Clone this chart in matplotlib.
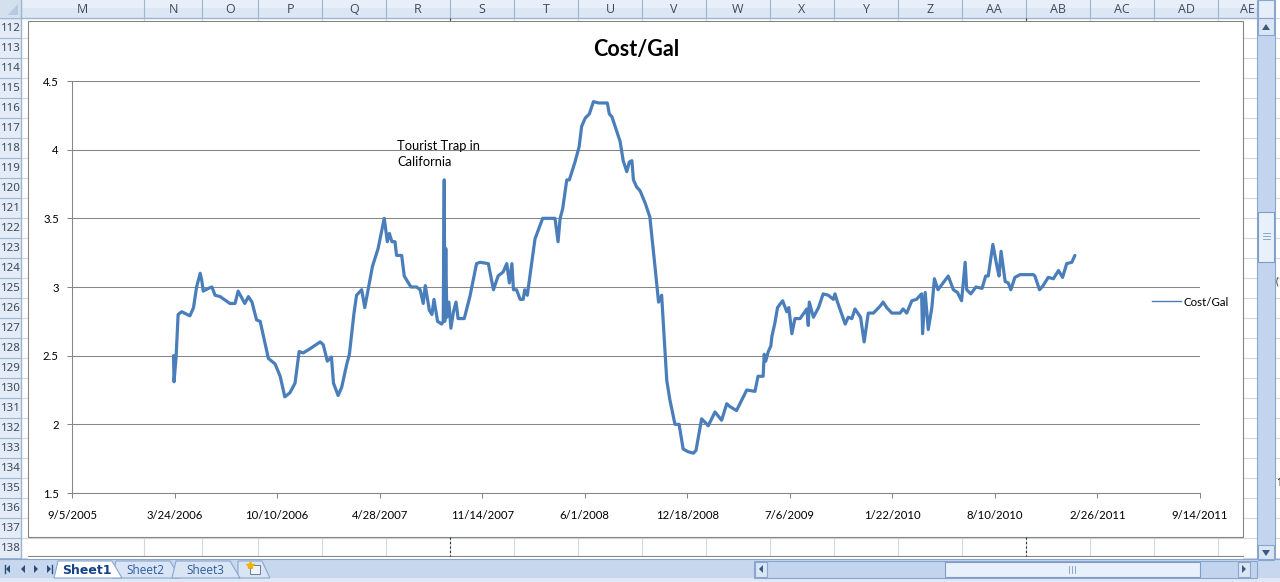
import matplotlib
matplotlib.use("Agg")
import matplotlib.pyplot as plt
import matplotlib.dates as mdates
from matplotlib.patches import Rectangle, Polygon
from matplotlib.lines import Line2D
import pandas as pd

# ---------------- data ----------------
dates = [
    "2006-03-22", "2006-03-23", "2006-03-27", "2006-03-31", "2006-04-07", "2006-04-23", "2006-04-30",
    "2006-05-06", "2006-05-13", "2006-05-16", "2006-05-19", "2006-05-29", "2006-06-05", "2006-06-11",
    "2006-06-21", "2006-07-10", "2006-07-20", "2006-07-26", "2006-08-08", "2006-08-15", "2006-08-22",
    "2006-08-31", "2006-09-07", "2006-09-23", "2006-10-06", "2006-10-16", "2006-10-25", "2006-11-04",
    "2006-11-14", "2006-11-22", "2006-11-30", "2006-12-13", "2007-01-02", "2007-01-08", "2007-01-16",
    "2007-01-24", "2007-01-28", "2007-02-06", "2007-02-13", "2007-02-23", "2007-02-28", "2007-03-09",
    "2007-03-14", "2007-03-24", "2007-03-30", "2007-04-08", "2007-04-14", "2007-04-25", "2007-05-07",
    "2007-05-13", "2007-05-17", "2007-05-22", "2007-05-28", "2007-05-31", "2007-06-10", "2007-06-15",
    "2007-06-28", "2007-07-09", "2007-07-16", "2007-07-22", "2007-07-26", "2007-08-03", "2007-08-08",
    "2007-08-12", "2007-08-19", "2007-08-27", "2007-08-30", "2007-09-01", "2007-09-02", "2007-09-04",
    "2007-09-06", "2007-09-10", "2007-09-14", "2007-09-19", "2007-09-24", "2007-09-28", "2007-10-10",
    "2007-10-21", "2007-11-03", "2007-11-10", "2007-11-26", "2007-12-06", "2007-12-15", "2007-12-25",
    "2008-01-01", "2008-01-06", "2008-01-11", "2008-01-14", "2008-01-20", "2008-01-27", "2008-02-02",
    "2008-02-05", "2008-02-10", "2008-02-25", "2008-03-11", "2008-04-04", "2008-04-10", "2008-04-14",
    "2008-04-19", "2008-04-27", "2008-05-02", "2008-05-13", "2008-05-21", "2008-05-26", "2008-06-02",
    "2008-06-10", "2008-06-18", "2008-06-28", "2008-07-15", "2008-07-19", "2008-07-24", "2008-08-09",
    "2008-08-15", "2008-08-22", "2008-08-27", "2008-09-01", "2008-09-04", "2008-09-10", "2008-09-17",
    "2008-09-27", "2008-10-06", "2008-10-16", "2008-10-23", "2008-10-29", "2008-11-08", "2008-11-14",
    "2008-11-24", "2008-12-02", "2008-12-10", "2008-12-20", "2008-12-30", "2009-01-04", "2009-01-15",
    "2009-01-28", "2009-02-10", "2009-02-23", "2009-03-05", "2009-03-11", "2009-03-24", "2009-04-13",
    "2009-04-29", "2009-05-05", "2009-05-15", "2009-05-17", "2009-05-20", "2009-05-25", "2009-05-30",
    "2009-06-01", "2009-06-07", "2009-06-12", "2009-06-22", "2009-06-30", "2009-07-04", "2009-07-10",
    "2009-07-16", "2009-07-26", "2009-08-08", "2009-08-11", "2009-08-13", "2009-08-21", "2009-08-31",
    "2009-09-09", "2009-09-19", "2009-09-29", "2009-10-02", "2009-10-07", "2009-10-22", "2009-10-28",
    "2009-11-04", "2009-11-10", "2009-11-21", "2009-11-28", "2009-12-06", "2009-12-16", "2009-12-29",
    "2010-01-04", "2010-01-11", "2010-01-21", "2010-02-06", "2010-02-12", "2010-02-19", "2010-03-01",
    "2010-03-10", "2010-03-20", "2010-03-22", "2010-03-27", "2010-04-02", "2010-04-09", "2010-04-14",
    "2010-04-21", "2010-05-11", "2010-05-21", "2010-05-29", "2010-06-06", "2010-06-13", "2010-06-16",
    "2010-06-24", "2010-07-04", "2010-07-16", "2010-07-23", "2010-07-28", "2010-08-06", "2010-08-14",
    "2010-08-18", "2010-08-22", "2010-08-30", "2010-09-05", "2010-09-10", "2010-09-18", "2010-09-28",
    "2010-10-24", "2010-10-27", "2010-11-05", "2010-11-12", "2010-11-22", "2010-12-02", "2010-12-12",
    "2010-12-20", "2010-12-28", "2011-01-07", "2011-01-13",
]
cost_per_gal = [
    2.50, 2.31, 2.49, 2.80, 2.82, 2.79, 2.85,
    3.00, 3.10, 3.05, 2.97, 2.99, 3.00, 2.94,
    2.93, 2.88, 2.88, 2.97, 2.88, 2.93, 2.89,
    2.76, 2.75, 2.48, 2.44, 2.35, 2.20, 2.23,
    2.30, 2.53, 2.52, 2.55, 2.60, 2.58, 2.46,
    2.49, 2.30, 2.21, 2.27, 2.44, 2.51, 2.81,
    2.94, 2.98, 2.85, 3.03, 3.15, 3.28, 3.50,
    3.33, 3.39, 3.33, 3.33, 3.23, 3.23, 3.08,
    3.00, 3.00, 2.98, 2.88, 3.01, 2.83, 2.80,
    2.91, 2.75, 2.73, 2.75, 3.78, 2.75, 3.28,
    2.78, 2.89, 2.70, 2.82, 2.89, 2.77, 2.77,
    2.93, 3.17, 3.18, 3.17, 2.98, 3.08, 3.11,
    3.17, 3.03, 3.17, 2.98, 2.98, 2.91, 2.91,
    2.98, 2.94, 3.35, 3.50, 3.50, 3.33, 3.50,
    3.57, 3.78, 3.78, 3.91, 4.02, 4.17, 4.23,
    4.26, 4.35, 4.34, 4.34, 4.26, 4.24, 4.06,
    3.92, 3.84, 3.91, 3.92, 3.78, 3.73, 3.70,
    3.61, 3.51, 3.15, 2.89, 2.94, 2.32, 2.18,
    2.00, 2.00, 1.82, 1.80, 1.79, 1.81, 2.04,
    1.99, 2.09, 2.03, 2.15, 2.13, 2.10, 2.25,
    2.24, 2.35, 2.35, 2.51, 2.46, 2.53, 2.57,
    2.64, 2.74, 2.85, 2.90, 2.82, 2.85, 2.66,
    2.77, 2.77, 2.84, 2.72, 2.89, 2.78, 2.85,
    2.95, 2.94, 2.91, 2.95, 2.89, 2.73, 2.78,
    2.77, 2.84, 2.78, 2.60, 2.81, 2.81, 2.86,
    2.89, 2.85, 2.81, 2.81, 2.84, 2.81, 2.90,
    2.91, 2.95, 2.66, 2.96, 2.69, 2.85, 3.06,
    2.98, 3.08, 2.98, 2.96, 2.90, 3.18, 2.98,
    2.95, 3.00, 2.99, 3.08, 3.08, 3.31, 3.15,
    3.08, 3.26, 3.04, 3.03, 2.98, 3.07, 3.09,
    3.09, 3.08, 2.98, 3.01, 3.07, 3.06, 3.12,
    3.07, 3.17, 3.18, 3.23,
]
chart_title = "Cost/Gal"
series_name = "Cost/Gal"
x_tick_dates = ["2005-09-05", "2006-03-24", "2006-10-10", "2007-04-28", "2007-11-14", "2008-06-01",
                "2008-12-18", "2009-07-06", "2010-01-22", "2010-08-10", "2011-02-26", "2011-09-14"]
y_ticks = [1.5, 2, 2.5, 3, 3.5, 4, 4.5]
y_tick_labels = ["1.5", "2", "2.5", "3", "3.5", "4", "4.5"]
note_text = "Tourist Trap in\nCalifornia"
note_date, note_value = "2007-06-01", 4.07
column_letters = ["M", "N", "O", "P", "Q", "R", "S", "T", "U", "V", "W", "X", "Y", "Z",
                  "AA", "AB", "AC", "AD", "AE"]
row_numbers = list(range(112, 139))
sheet_names = ["Sheet1", "Sheet2", "Sheet3"]

# ---------------- figure ----------------
W, H = 1280, 582
fig = plt.figure(figsize=(W / 100, H / 100), dpi=100)
fig.patch.set_facecolor("white")

bg = fig.add_axes([0, 0, 1, 1])
bg.set_xlim(0, W)
bg.set_ylim(H, 0)
bg.axis("off")

CHROME = ["Open Sans", "DejaVu Sans"]
grid_c = "#d0d7e5"
hdr_line = "#9eb6ce"
hdr_text = "#3c4a5e"

col_edges = [21, 144, 202, 258, 322, 386, 450, 514, 578, 642, 706, 770, 834, 898, 962,
             1026, 1090, 1154, 1218, 1282]
for x in col_edges:
    bg.plot([x, x], [18, 558], color=grid_c, lw=0.8, zorder=1)
for i in range(len(row_numbers) + 1):
    y = 18 + 20 * i
    bg.plot([21, 1257], [y, y], color=grid_c, lw=0.8, zorder=1)
    bg.plot([1275, 1280], [y, y], color=grid_c, lw=0.8, zorder=1)

# column header
bg.add_patch(Rectangle((0, 0), 1257, 18, facecolor="#dce6f4", edgecolor="none", zorder=2))
bg.add_patch(Rectangle((0, 0), 1257, 8, facecolor="#e8eff8", edgecolor="none", zorder=2))
bg.plot([0, 1257], [18, 18], color=hdr_line, lw=1, zorder=3)
for x in col_edges:
    bg.plot([x, x], [0, 18], color=hdr_line, lw=0.8, zorder=3)
for i, lab in enumerate(column_letters):
    x0 = col_edges[i]
    x1 = min(col_edges[i + 1], 1257)
    cx = (x0 + x1) / 2 if lab != "AE" else 1247
    bg.text(cx, 9.5, lab, ha="center", va="center", fontsize=9, color=hdr_text,
            family=CHROME, zorder=4)
bg.add_patch(Rectangle((0, 0), 21, 18, facecolor="#d5e0ee", edgecolor="none", zorder=3))
bg.add_patch(Polygon([[8, 15], [18, 15], [18, 4]], closed=True, facecolor="#b7c9e0",
                     edgecolor="none", zorder=4))

# row header
bg.add_patch(Rectangle((0, 18), 21, 540, facecolor="#e4ecf7", edgecolor="none", zorder=2))
bg.plot([21, 21], [0, 558], color=hdr_line, lw=1, zorder=3)
for i, r in enumerate(row_numbers):
    y = 18 + 20 * i
    bg.plot([0, 21], [y + 20, y + 20], color=hdr_line, lw=0.8, zorder=3)
    bg.text(10.5, y + 10.5, str(r), ha="center", va="center", fontsize=8.3, color=hdr_text,
            family=["Noto Sans", "DejaVu Sans"], zorder=4)

# chart box
bg.add_patch(Rectangle((28, 21), 1215, 516, facecolor="white", edgecolor="#868686",
                       lw=0.8, zorder=5))
bg.plot([28, 1243], [556, 556], color="#868686", lw=0.8, zorder=5)
bg.add_patch(Rectangle((28, 556.5), 1215, 4, facecolor="white", edgecolor="none", zorder=5))

for x in (450, 1026):
    bg.plot([x, x], [537, 556], color="#333333", lw=0.8, ls=(0, (2, 2)), zorder=6)
    bg.plot([x, x], [18, 21], color="#333333", lw=0.8, ls=(0, (2, 2)), zorder=6)

bg.text(1276, 282, "(", ha="left", va="center", fontsize=7, color="#222222", family=CHROME, zorder=6)
bg.text(1276, 483, "1", ha="left", va="center", fontsize=7, color="#222222", family=CHROME, zorder=6)

# vertical scrollbar
bg.add_patch(Rectangle((1257, 0), 18, 560, facecolor="#c3d5ee", edgecolor="#8aa6cf", lw=0.8, zorder=6))
bg.add_patch(Rectangle((1258, 0), 16, 18, facecolor="#e6eef9", edgecolor="#8aa6cf", lw=0.8, zorder=7))
bg.add_patch(Rectangle((1258, 18), 16, 17, facecolor="#dbe6f5", edgecolor="#8aa6cf", lw=0.8, zorder=7))
bg.add_patch(Polygon([[1262, 30], [1270, 30], [1266, 24]], closed=True, facecolor="#3b5a82", zorder=8))
bg.add_patch(Rectangle((1258, 212), 16, 50, facecolor="#e8f0fa", edgecolor="#7d9cc8", lw=0.8, zorder=7))
for yy in (233, 236, 239):
    bg.plot([1263, 1270], [yy, yy], color="#7d9cc8", lw=0.6, zorder=8)
bg.add_patch(Rectangle((1258, 545), 16, 15, facecolor="#dbe6f5", edgecolor="#8aa6cf", lw=0.8, zorder=7))
bg.add_patch(Polygon([[1262, 550], [1270, 550], [1266, 556]], closed=True, facecolor="#3b5a82", zorder=8))

# sheet tab bar
bg.add_patch(Rectangle((0, 559), W, 23, facecolor="#c7d8ee", edgecolor="none", zorder=6))
bg.plot([0, W], [559, 559], color="#8aa6cf", lw=0.8, zorder=7)
bg.add_patch(Rectangle((0, 578), W, 4, facecolor="#dfe8f5", edgecolor="none", zorder=7))
for cx, kind in ((7, "first"), (22, "prev"), (36, "next"), (49, "last")):
    if kind in ("first", "prev"):
        bg.add_patch(Polygon([[cx + 3, 565], [cx + 3, 573], [cx - 1, 569]], closed=True,
                             facecolor="#2c4a78", zorder=8))
        if kind == "first":
            bg.plot([cx - 2, cx - 2], [565, 573], color="#2c4a78", lw=1, zorder=8)
    else:
        bg.add_patch(Polygon([[cx - 2, 565], [cx - 2, 573], [cx + 2, 569]], closed=True,
                             facecolor="#2c4a78", zorder=8))
        if kind == "last":
            bg.plot([cx + 3, cx + 3], [565, 573], color="#2c4a78", lw=1, zorder=8)
tab_specs = [(58, 118, True), (116, 176, False), (176, 236, False)]
for (x0, x1, active), name in zip(tab_specs, sheet_names):
    fc = "#ffffff" if active else "#d9e5f4"
    bg.add_patch(Polygon([[x0, 561], [x1 - 6, 561], [x1 + 4, 578], [x0 - 4, 578]], closed=True,
                         facecolor=fc, edgecolor="#8aa6cf", lw=0.8, zorder=8 if active else 7.5))
    bg.text((x0 + x1) / 2 - 1, 570, name, ha="center", va="center",
            fontsize=9 if active else 8.5, fontweight="bold" if active else "normal",
            color="#15428b" if active else "#2b5aa0",
            family=["DejaVu Sans"] if active else CHROME, zorder=9)
bg.add_patch(Polygon([[238, 561], [262, 561], [270, 578], [238, 578]], closed=True,
                     facecolor="#d9e5f4", edgecolor="#8aa6cf", lw=0.8, zorder=7.4))
bg.add_patch(Rectangle((250, 565), 10, 9, facecolor="#f4f4f4", edgecolor="#5f7ea8", lw=0.7, zorder=8))
bg.plot([250], [565], marker="*", color="#f0b400", ms=6, zorder=9)

# horizontal scrollbar
bg.add_patch(Rectangle((754, 561), 503, 17, facecolor="#c3d5ee", edgecolor="#8aa6cf", lw=0.8, zorder=8))
bg.add_patch(Rectangle((755, 562), 12, 15, facecolor="#dbe6f5", edgecolor="#8aa6cf", lw=0.8, zorder=9))
bg.add_patch(Polygon([[763, 565], [763, 573], [759, 569]], closed=True, facecolor="#3b5a82", zorder=10))
bg.add_patch(Rectangle((945, 562), 255, 15, facecolor="#e8f0fa", edgecolor="#7d9cc8", lw=0.8, zorder=9))
for xx in (1069, 1072, 1075):
    bg.plot([xx, xx], [566, 573], color="#7d9cc8", lw=0.6, zorder=10)
bg.add_patch(Rectangle((1238, 562), 12, 15, facecolor="#dbe6f5", edgecolor="#8aa6cf", lw=0.8, zorder=9))
bg.add_patch(Polygon([[1242, 565], [1242, 573], [1246, 569]], closed=True, facecolor="#3b5a82", zorder=10))

# ---------------- chart ----------------
CHART = ["Lato", "DejaVu Sans"]
axis_c = "#868686"
x_vals = pd.to_datetime(dates)
x_ticks = pd.to_datetime(x_tick_dates)

ax = fig.add_axes([72 / W, 1 - 493 / H, (1200 - 72) / W, (493 - 81) / H])
ax.set_facecolor("none")
ax.plot(x_vals, cost_per_gal, color="#4a7ebb", lw=2.3, solid_joinstyle="round",
        solid_capstyle="round", zorder=3)

ax.set_xlim(x_ticks[0], x_ticks[-1])
ax.set_ylim(y_ticks[0], y_ticks[-1])
ax.set_xticks(x_ticks)
ax.set_xticklabels([f"{d.month}/{d.day}/{d.year}" for d in x_ticks])
ax.set_yticks(y_ticks)
ax.set_yticklabels(y_tick_labels)
for lab in ax.get_xticklabels() + ax.get_yticklabels():
    lab.set_family(CHART)
    lab.set_fontsize(8.2)
    lab.set_color("black")

ax.grid(axis="y", color=axis_c, lw=0.75, zorder=1)
ax.grid(axis="x", visible=False)
for s in ("top", "right"):
    ax.spines[s].set_visible(False)
for s in ("left", "bottom"):
    ax.spines[s].set_color(axis_c)
    ax.spines[s].set_linewidth(0.75)
ax.tick_params(axis="both", direction="out", length=3.5, width=0.75, color=axis_c)
ax.tick_params(axis="y", pad=6)
ax.tick_params(axis="x", pad=8.5)
ax.set_axisbelow(True)

ax.text(0.5, 1 + (81 - 50) / 412, chart_title, transform=ax.transAxes, ha="center",
        va="center", fontsize=15.5, fontweight="bold", family=CHART)

ax.text(pd.Timestamp(note_date), note_value, note_text, ha="left", va="top",
        fontsize=9.3, family=CHART, linespacing=1.35, zorder=4)

handle = Line2D([], [], color="#4a7ebb", lw=1.0)
fig.legend(handles=[handle], labels=[series_name], loc="center left",
           bbox_to_anchor=(1152 / W, 1 - 302 / H), frameon=False,
           prop={"family": CHART, "size": 8.3}, handlelength=2.5, handletextpad=0.25,
           borderpad=0, borderaxespad=0)

fig.savefig("out.png", dpi=100, facecolor="white")
